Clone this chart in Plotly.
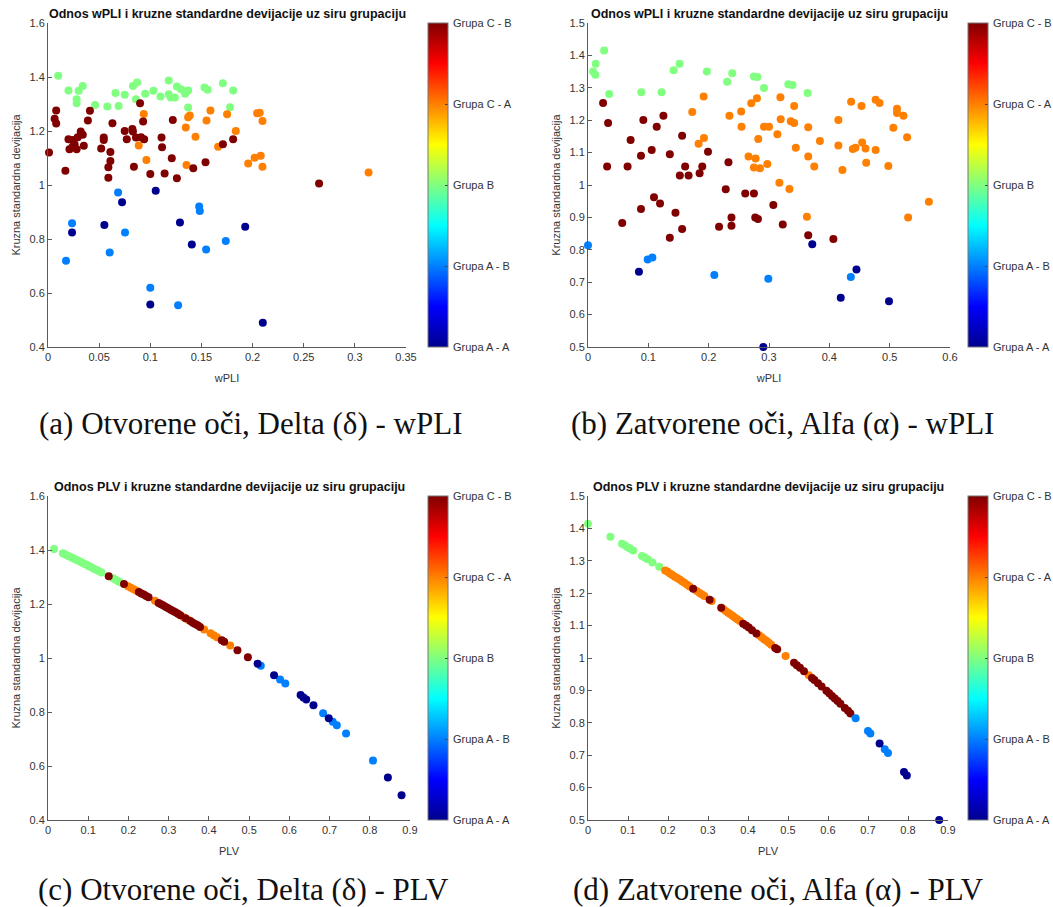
import plotly.graph_objects as go

# ---------------- data ----------------
GROUP_CODES = [1, 2, 3, 4, 5]
GROUP_LABELS = ["Grupa A - A", "Grupa A - B", "Grupa B", "Grupa C - A", "Grupa C - B"]

# (a) Otvorene oci, Delta - wPLI
a_B_x = [0.010, 0.020, 0.028, 0.028, 0.030, 0.034, 0.046, 0.058, 0.066, 0.069, 0.075, 0.083, 0.087, 0.086, 0.095, 0.103,
         0.110, 0.118, 0.118, 0.120, 0.124, 0.126, 0.130, 0.134, 0.137, 0.137, 0.153, 0.156, 0.171, 0.178, 0.181]
a_B_y = [1.405, 1.350, 1.318, 1.303, 1.349, 1.367, 1.296, 1.291, 1.341, 1.293, 1.334, 1.367, 1.380, 1.318, 1.338, 1.349,
         1.328, 1.387, 1.336, 1.324, 1.324, 1.365, 1.355, 1.338, 1.350, 1.287, 1.361, 1.353, 1.377, 1.288, 1.350]
a_CB_x = [0.001, 0.0065, 0.008, 0.008, 0.017, 0.020, 0.021, 0.024, 0.024, 0.026, 0.028, 0.029, 0.032, 0.034, 0.035, 0.039,
          0.041, 0.052, 0.0545, 0.0545, 0.059, 0.059, 0.061, 0.061, 0.063, 0.075, 0.077, 0.0825, 0.083, 0.084, 0.086,
          0.090, 0.091, 0.093, 0.094, 0.100, 0.111, 0.1115, 0.114, 0.121, 0.122, 0.126, 0.142, 0.154, 0.171, 0.181, 0.265]
a_CB_y = [1.120, 1.245, 1.276, 1.228, 1.053, 1.169, 1.132, 1.167, 1.142, 1.151, 1.132, 1.177, 1.198, 1.186, 1.145, 1.239,
          1.275, 1.135, 1.176, 1.167, 1.066, 1.027, 1.122, 1.089, 1.229, 1.200, 1.169, 1.207, 1.198, 1.068, 1.176,
          1.303, 1.177, 1.235, 1.169, 1.041, 1.176, 1.140, 1.043, 1.099, 1.241, 1.025, 1.062, 1.084, 1.151, 1.169, 1.006]
a_CA_x = [0.0936, 0.0887, 0.0962, 0.1347, 0.1354, 0.137, 0.1386, 0.1442, 0.155, 0.1588, 0.1663, 0.1751, 0.1836, 0.1957,
          0.202, 0.2045, 0.207, 0.208, 0.2097, 0.2097, 0.3134]
a_CA_y = [1.263, 1.146, 1.093, 1.213, 1.074, 1.251, 1.257, 1.179, 1.239, 1.276, 1.142, 1.262, 1.200, 1.080,
          1.101, 1.266, 1.268, 1.108, 1.237, 1.068, 1.046]
a_AB_x = [0.0176, 0.0235, 0.0603, 0.0685, 0.0753, 0.100, 0.1272, 0.1478, 0.1484, 0.1546, 0.1738]
a_AB_y = [0.719, 0.858, 0.750, 0.972, 0.824, 0.619, 0.555, 0.920, 0.904, 0.761, 0.793]
a_AA_x = [0.0235, 0.0551, 0.0724, 0.100, 0.1053, 0.129, 0.1406, 0.1928, 0.210]
a_AA_y = [0.824, 0.852, 0.936, 0.557, 0.979, 0.861, 0.780, 0.845, 0.490]

# (b) Zatvorene oci, Alfa - wPLI
b_B_x = [0.0083, 0.0122, 0.0128, 0.0267, 0.035, 0.0883, 0.122, 0.142, 0.1517, 0.197, 0.2306, 0.239, 0.275, 0.2806,
         0.2917, 0.332, 0.339, 0.364]
b_B_y = [1.350, 1.340, 1.374, 1.415, 1.281, 1.286, 1.286, 1.354, 1.374, 1.350, 1.319, 1.345, 1.335, 1.333,
         1.299, 1.311, 1.309, 1.284]
b_CB_x = [0.025, 0.0333, 0.0317, 0.0567, 0.0656, 0.0706, 0.0878, 0.0878, 0.0917, 0.1056, 0.1094, 0.1139, 0.1194, 0.125,
          0.1356, 0.1356, 0.145, 0.1522, 0.156, 0.156, 0.161, 0.1667, 0.185, 0.1894, 0.1989, 0.2172, 0.2283, 0.2328,
          0.2378, 0.2378, 0.2606, 0.275, 0.2772, 0.2817, 0.3072, 0.3228, 0.365, 0.4067]
b_CB_y = [1.253, 1.191, 1.057, 0.883, 1.057, 1.139, 1.090, 0.926, 1.201, 1.108, 0.962, 1.180, 0.943, 1.214,
          1.095, 0.837, 0.914, 1.029, 1.152, 0.864, 1.057, 1.029, 1.036, 1.057, 1.103, 0.871, 0.987, 1.070,
          0.900, 0.874, 0.974, 0.974, 0.900, 0.895, 0.938, 0.878, 0.845, 0.833]
b_CA_x = [0.1728, 0.1917, 0.1922, 0.1833, 0.2344, 0.2539, 0.2544, 0.2661, 0.2706, 0.2778, 0.275, 0.28, 0.2822, 0.285,
          0.2917, 0.2972, 0.30, 0.3139, 0.3172, 0.3189, 0.3194, 0.3339, 0.3361, 0.3417, 0.3417, 0.3444, 0.3628, 0.365,
          0.365, 0.375, 0.3844, 0.415, 0.415, 0.4217, 0.4361, 0.4389, 0.4433, 0.4533, 0.4544, 0.46, 0.4611, 0.4767,
          0.4767, 0.4833, 0.4978, 0.5061, 0.5122, 0.5122, 0.5228, 0.5289, 0.5306, 0.565]
b_CA_y = [1.225, 1.273, 1.145, 1.127, 1.214, 1.227, 1.180, 1.088, 1.252, 1.082, 1.054, 1.268, 1.142, 1.052,
          1.180, 1.065, 1.180, 1.157, 1.007, 1.271, 1.203, 0.988, 1.197, 1.191, 1.244, 1.115, 0.902, 1.088,
          1.178, 1.057, 1.136, 1.201, 1.122, 1.046, 1.257, 1.111, 1.115, 1.244, 1.131, 1.113, 1.069, 1.108,
          1.263, 1.253, 1.059, 1.177, 1.235, 1.222, 1.214, 1.147, 0.900, 0.948]
b_AB_x = [0.0, 0.0989, 0.1067, 0.2094, 0.2989, 0.4356]
b_AB_y = [0.814, 0.770, 0.776, 0.722, 0.711, 0.716]
b_AA_x = [0.0844, 0.2906, 0.3717, 0.4189, 0.445, 0.4989]
b_AA_y = [0.732, 0.500, 0.817, 0.652, 0.739, 0.641]

# (c) Otvorene oci, Delta - PLV
c_B_x = [0.015, 0.037, 0.043, 0.049, 0.055, 0.061, 0.067, 0.073, 0.079, 0.085, 0.091, 0.097, 0.103, 0.109, 0.115,
         0.121, 0.127, 0.133, 0.162, 0.168, 0.174, 0.179]
c_B_y = [1.404, 1.388, 1.383, 1.379, 1.375, 1.370, 1.366, 1.362, 1.357, 1.353, 1.348, 1.344, 1.339, 1.335, 1.330,
         1.326, 1.321, 1.317, 1.295, 1.290, 1.285, 1.281]
c_CB_x = [0.151, 0.189, 0.226, 0.232, 0.238, 0.244, 0.250, 0.275, 0.281, 0.287, 0.293, 0.299, 0.305, 0.311, 0.317,
          0.323, 0.329, 0.342, 0.354, 0.360, 0.366, 0.372, 0.378, 0.432, 0.438, 0.471, 0.497]
c_CB_y = [1.303, 1.274, 1.244, 1.239, 1.235, 1.230, 1.225, 1.204, 1.199, 1.194, 1.189, 1.184, 1.179, 1.174, 1.169,
          1.164, 1.158, 1.147, 1.137, 1.131, 1.126, 1.121, 1.115, 1.066, 1.060, 1.029, 1.003]
c_CA_x = [0.199, 0.206, 0.213, 0.220, 0.266, 0.336, 0.348, 0.388, 0.404, 0.412, 0.420, 0.453]
c_CA_y = [1.266, 1.260, 1.255, 1.249, 1.212, 1.152, 1.142, 1.106, 1.092, 1.084, 1.077, 1.046]
c_AB_x = [0.529, 0.577, 0.590, 0.684, 0.708, 0.718, 0.741, 0.808]
c_AB_y = [0.971, 0.920, 0.906, 0.795, 0.764, 0.751, 0.720, 0.620]
c_AA_x = [0.521, 0.562, 0.628, 0.635, 0.642, 0.660, 0.698, 0.845, 0.879]
c_AA_y = [0.979, 0.936, 0.863, 0.854, 0.846, 0.825, 0.777, 0.557, 0.492]

# (d) Zatvorene oci, Alfa - PLV
d_B_x = [0.000, 0.056, 0.085, 0.092, 0.099, 0.106, 0.113, 0.135, 0.142, 0.149, 0.161, 0.178]
d_B_y = [1.414, 1.374, 1.353, 1.348, 1.342, 1.337, 1.332, 1.315, 1.310, 1.305, 1.295, 1.282]
d_CA_x = [0.193, 0.199, 0.205, 0.211, 0.217, 0.223, 0.229, 0.235, 0.241, 0.248, 0.254, 0.272, 0.279, 0.285, 0.291,
          0.309, 0.338, 0.344, 0.350, 0.356, 0.362, 0.368, 0.374, 0.380, 0.428, 0.434, 0.440, 0.446, 0.452, 0.458,
          0.494, 0.552]
d_CA_y = [1.270, 1.266, 1.261, 1.256, 1.251, 1.247, 1.242, 1.237, 1.232, 1.226, 1.221, 1.207, 1.201, 1.196, 1.191,
          1.176, 1.151, 1.145, 1.140, 1.135, 1.130, 1.124, 1.119, 1.114, 1.070, 1.064, 1.058, 1.053, 1.047, 1.041,
          1.006, 0.947]
d_CB_x = [0.263, 0.304, 0.333, 0.388, 0.395, 0.402, 0.410, 0.421, 0.468, 0.473, 0.515, 0.522, 0.530, 0.540, 0.560,
          0.566, 0.575, 0.584, 0.596, 0.603, 0.610, 0.617, 0.624, 0.631, 0.642, 0.650, 0.656]
d_CB_y = [1.214, 1.180, 1.155, 1.106, 1.100, 1.094, 1.086, 1.076, 1.031, 1.027, 0.985, 0.978, 0.970, 0.959, 0.938,
          0.932, 0.922, 0.912, 0.899, 0.891, 0.883, 0.875, 0.867, 0.859, 0.846, 0.837, 0.829]
d_AB_x = [0.669, 0.700, 0.706, 0.742, 0.750]
d_AB_y = [0.814, 0.775, 0.767, 0.718, 0.707]
d_AA_x = [0.729, 0.790, 0.797, 0.878]
d_AA_y = [0.736, 0.648, 0.637, 0.500]

PANEL_TITLES = ["Odnos wPLI i kruzne standardne devijacije uz siru grupaciju",
                "Odnos wPLI i kruzne standardne devijacije uz siru grupaciju",
                "Odnos PLV i kruzne standardne devijacije uz siru grupaciju",
                "Odnos PLV i kruzne standardne devijacije uz siru grupaciju"]
X_TITLES = ["wPLI", "wPLI", "PLV", "PLV"]
Y_TITLE = "Kruzna standardna devijacija"
CAPTIONS = ["(a) Otvorene oči, Delta (δ) - wPLI", "(b) Zatvorene oči, Alfa (α) - wPLI",
            "(c) Otvorene oči, Delta (δ) - PLV", "(d) Zatvorene oči, Alfa (α) - PLV"]

panels = [
    [(a_B_x, a_B_y, 3), (a_CA_x, a_CA_y, 4), (a_CB_x, a_CB_y, 5), (a_AB_x, a_AB_y, 2), (a_AA_x, a_AA_y, 1)],
    [(b_B_x, b_B_y, 3), (b_CA_x, b_CA_y, 4), (b_CB_x, b_CB_y, 5), (b_AB_x, b_AB_y, 2), (b_AA_x, b_AA_y, 1)],
    [(c_B_x, c_B_y, 3), (c_CA_x, c_CA_y, 4), (c_CB_x, c_CB_y, 5), (c_AB_x, c_AB_y, 2), (c_AA_x, c_AA_y, 1)],
    [(d_B_x, d_B_y, 3), (d_CA_x, d_CA_y, 4), (d_CB_x, d_CB_y, 5), (d_AB_x, d_AB_y, 2), (d_AA_x, d_AA_y, 1)],
]

# ---------------- layout geometry (pixels) ----------------
W, H = 1053, 907
plot_px = [  # x0, x1, y0(top), y1(bottom)
    (48, 406, 23, 347),
    (588, 950, 23, 347),
    (48, 410, 496, 820),
    (588, 948, 496, 820),
]
xranges = [[0, 0.35], [0, 0.6], [0, 0.9], [0, 0.9]]
yranges = [[0.4, 1.6], [0.5, 1.5], [0.4, 1.6], [0.5, 1.5]]
xdticks = [0.05, 0.1, 0.1, 0.1]
ydticks = [0.2, 0.1, 0.2, 0.1]
cbar_x_px = [428, 968, 428, 968]
caption_px = [(250, 424), (782, 424), (243, 889), (778, 889)]

jet = [[0.0, "rgb(0,0,143)"], [0.125, "rgb(0,0,255)"], [0.375, "rgb(0,255,255)"],
       [0.625, "rgb(255,255,0)"], [0.875, "rgb(255,0,0)"], [1.0, "rgb(128,0,0)"]]

AX_COLOR = "#5a5a5a"
TXT_COLOR = "#333333"
SANS = "Liberation Sans, Arial, sans-serif"

fig = go.Figure()
layout = dict(width=W, height=H, autosize=False, margin=dict(l=0, r=0, t=0, b=0, pad=0),
              paper_bgcolor="white", plot_bgcolor="white", showlegend=False,
              font=dict(family=SANS, size=11, color=TXT_COLOR))
annotations = []

for i, groups in enumerate(panels):
    n = i + 1
    sfx = "" if n == 1 else str(n)
    ca = "coloraxis" + sfx
    for xs, ys, code in groups:
        fig.add_trace(go.Scatter(
            x=xs, y=ys, mode="markers", xaxis="x" + sfx, yaxis="y" + sfx,
            cliponaxis=False,
            marker=dict(size=8, color=[code] * len(xs), coloraxis=ca, line=dict(width=0)),
            hoverinfo="x+y"))
    x0, x1, y0, y1 = plot_px[i]
    xd = [x0 / W, x1 / W]
    yd = [1 - y1 / H, 1 - y0 / H]
    layout["xaxis" + sfx] = dict(
        domain=xd, range=xranges[i], dtick=xdticks[i], tick0=0, anchor="y" + sfx, automargin=False,
        showline=True, linecolor=AX_COLOR, linewidth=1, ticks="inside", ticklen=4, tickcolor=AX_COLOR,
        showgrid=False, zeroline=False, mirror=False, tickfont=dict(size=11, color=TXT_COLOR),
        title=dict(text=X_TITLES[i], font=dict(size=11, color=TXT_COLOR), standoff=12))
    layout["yaxis" + sfx] = dict(
        domain=yd, range=yranges[i], dtick=ydticks[i], tick0=0, anchor="x" + sfx, automargin=False,
        showline=True, linecolor=AX_COLOR, linewidth=1, ticks="inside", ticklen=4, tickcolor=AX_COLOR,
        showgrid=False, zeroline=False, mirror=False, tickfont=dict(size=11, color=TXT_COLOR),
        title=dict(text=Y_TITLE, font=dict(size=11, color=TXT_COLOR), standoff=6))
    layout[ca] = dict(
        colorscale=jet, cmin=1, cmax=5,
        colorbar=dict(x=cbar_x_px[i] / W, xanchor="left", thickness=20, thicknessmode="pixels",
                      len=(y1 - y0) / H, lenmode="fraction", y=1 - (y0 + y1) / 2 / H, yanchor="middle",
                      xpad=0, ypad=0, outlinewidth=1, outlinecolor="#777777",
                      tickvals=GROUP_CODES, ticks="inside", ticklen=3, tickcolor="#444444",
                      showticklabels=False))
    # colorbar labels
    for code, lab in zip(GROUP_CODES, GROUP_LABELS):
        ypx = y1 - (code - 1) / 4 * (y1 - y0)
        annotations.append(dict(text=lab, xref="paper", yref="paper", x=(cbar_x_px[i] + 23) / W,
                                y=1 - ypx / H, xanchor="left", yanchor="middle", showarrow=False,
                                font=dict(family=SANS, size=11, color=TXT_COLOR)))
    annotations.append(dict(text="<b>" + PANEL_TITLES[i] + "</b>", xref="paper", yref="paper",
                            x=(x0 + x1) / 2 / W, y=1 - (y0 - 9) / H, xanchor="center", yanchor="middle",
                            showarrow=False, font=dict(family=SANS, size=12.5, color="#111111")))
    cx, cy = caption_px[i]
    annotations.append(dict(text=CAPTIONS[i], xref="paper", yref="paper", x=cx / W, y=1 - cy / H,
                            xanchor="center", yanchor="middle", showarrow=False,
                            font=dict(family="Liberation Serif, Times New Roman, serif", size=31, color="#111111")))

layout["annotations"] = annotations
fig.update_layout(**layout)
# the page's default 8px body margin would shift the 1053x907 figure; remove it
fig.write_html("out.html", config={"displayModeBar": False},
               post_script="document.body.style.margin='0';document.body.style.overflow='hidden';")
